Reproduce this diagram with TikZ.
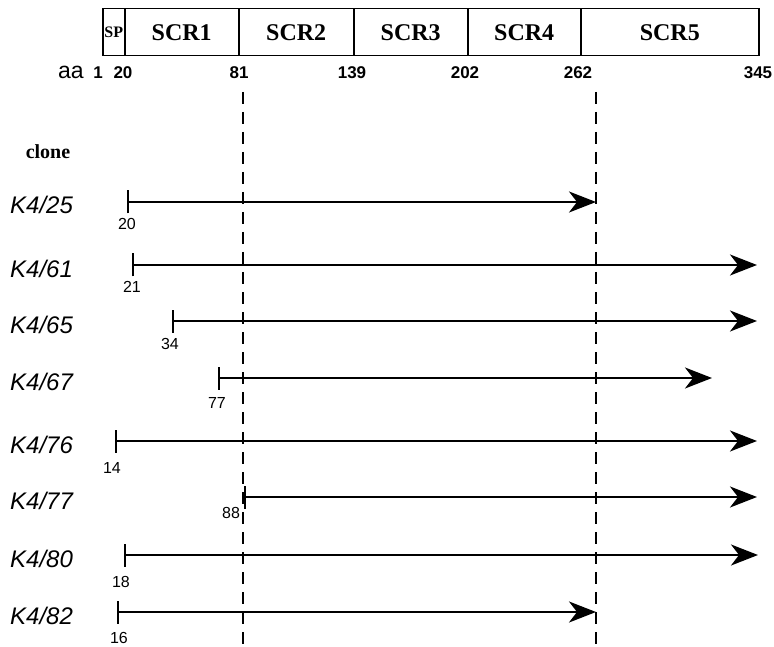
\documentclass[tikz,border=0pt]{standalone}
\usepackage{fontspec}
\setmainfont{Liberation Serif}
\setsansfont{Liberation Sans}
\usetikzlibrary{arrows.meta}
\begin{document}
\begin{tikzpicture}[x=1pt,y=-1pt,
  seg/.style={draw, line width=1.5pt, inner sep=0pt, minimum height=47pt, anchor=north west,
    font=\rmfamily\bfseries\fontsize{24}{24}\selectfont},
  posnum/.style={font=\sffamily\bfseries\fontsize{17}{17}\selectfont, inner sep=0pt},
  clonelab/.style={font=\sffamily\itshape\fontsize{24}{24}\selectfont, anchor=base west, inner sep=0pt},
  startnum/.style={font=\sffamily\fontsize{16}{16}\selectfont, inner sep=0pt},
  guide/.style={line width=1.8pt, dash pattern=on 12pt off 8pt},
  clonearrow/.style={line width=2pt, {Bar[width=23pt,line width=2pt]}-{Stealth[length=27pt,width=21pt,inset=8pt]}}
]
\useasboundingbox (0,0) rectangle (774,647);
% domain bar
\node[seg, minimum width=22pt, font=\rmfamily\bfseries\fontsize{16}{16}\selectfont] (sp) at (102,8) {\kern-1pt SP\kern-1pt};
\node[seg, minimum width=114pt] (scr1) at (124,8) {SCR1};
\node[seg, minimum width=115pt] (scr2) at (238,8) {SCR2};
\node[seg, minimum width=114pt] (scr3) at (353,8) {SCR3};
\node[seg, minimum width=113pt] (scr4) at (467,8) {SCR4};
\node[seg, minimum width=178pt] (scr5) at (580,8) {SCR5};
% positions
\node[font=\sffamily\fontsize{23}{23}\selectfont, inner sep=0pt] (aa) at (71,72) {aa};
\node[posnum] (p1) at (98,73) {1};
\node[posnum] (p20) at (123,73) {20};
\node[posnum] (p81) at (239,73) {81};
\node[posnum] (p139) at (352,73) {139};
\node[posnum] (p202) at (465,73) {202};
\node[posnum] (p262) at (578,73) {262};
\node[posnum] (p345) at (758,73) {345};
% dashed guides
\coordinate (g1t) at (243,92); \coordinate (g1b) at (243,647);
\coordinate (g2t) at (596,92); \coordinate (g2b) at (596,647);
\draw[guide] (g1t) -- (g1b);
\draw[guide] (g2t) -- (g2b);
% clone header
\node[font=\rmfamily\bfseries\fontsize{20}{20}\selectfont, inner sep=0pt] (clone) at (48,152) {clone};
% rows
\foreach \name/\y/\xs/\xe/\num/\nx/\ny in {
  25/202/127/596/20/127/224,
  61/265/132/757/21/132/287,
  65/321/172/757/34/170/344,
  67/378/218/712/77/217/403,
  76/441/115/757/14/112/468,
  77/497/244/757/88/231/513,
  80/555/124/758/18/121/582,
  82/612/117/596/16/119/638}{
  \node[clonelab] (lab\name) at (10,\y+12) {K4/\name};
  \coordinate (s\name) at (\xs,\y);
  \coordinate (e\name) at (\xe,\y);
  \draw[clonearrow] (s\name) -- (e\name);
  \node[startnum] (n\name) at (\nx,\ny) {\num};
}
\end{tikzpicture}
\end{document}
